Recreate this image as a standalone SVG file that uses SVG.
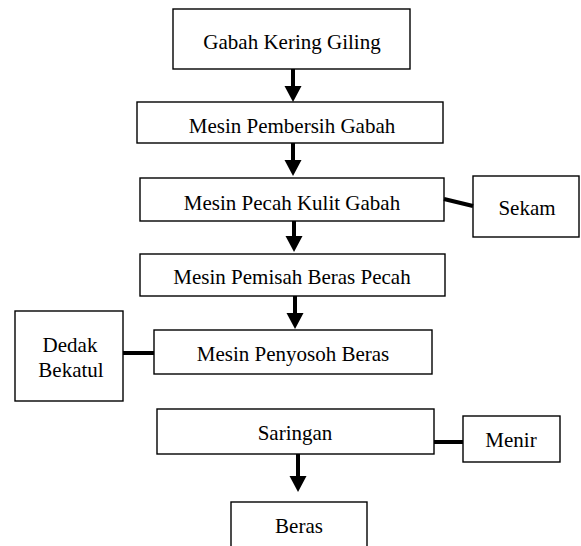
<svg xmlns="http://www.w3.org/2000/svg" width="581" height="546" viewBox="0 0 581 546">
<style>
.box{fill:#fff;stroke:#000;stroke-width:1.4}
text{font-family:'Liberation Serif','Times New Roman',serif;font-size:21px;fill:#000;text-anchor:middle}
.ln{stroke:#000;stroke-width:4;fill:none}
.hd{fill:#000}
</style>
<rect width="581" height="546" fill="#fff"/>
<g id="n1"><rect class="box" x="173" y="9" width="237" height="60"/><text x="292" y="49">Gabah Kering Giling</text></g>
<g id="n2"><rect class="box" x="137" y="102" width="306" height="41"/><text x="292" y="133">Mesin Pembersih Gabah</text></g>
<g id="n3"><rect class="box" x="140" y="178" width="304" height="43"/><text x="292" y="210">Mesin Pecah Kulit Gabah</text></g>
<g id="n3b"><rect class="box" x="473" y="176" width="106" height="61"/><text x="527" y="215">Sekam</text></g>
<g id="n4"><rect class="box" x="140" y="254" width="305" height="42"/><text x="292" y="284">Mesin Pemisah Beras Pecah</text></g>
<g id="n5"><rect class="box" x="154" y="330" width="278" height="44"/><text x="293" y="361">Mesin Penyosoh Beras</text></g>
<g id="n5b"><rect class="box" x="15" y="311" width="108" height="90"/><text x="70" y="352">Dedak</text><text x="71" y="377">Bekatul</text></g>
<g id="n6"><rect class="box" x="157" y="409" width="277" height="45"/><text x="295" y="440">Saringan</text></g>
<g id="n6b"><rect class="box" x="463" y="416" width="97" height="46"/><text x="511" y="447">Menir</text></g>
<g id="n7"><rect class="box" x="231" y="502" width="136" height="60"/><text x="299" y="533">Beras</text></g>
<g id="connectors">
<line class="ln" x1="293" y1="69" x2="293" y2="87"/><polygon class="hd" points="284.5,86 301.5,86 293,102"/>
<line class="ln" x1="293" y1="143" x2="293" y2="161"/><polygon class="hd" points="284.5,160 301.5,160 293,176"/>
<line class="ln" x1="294" y1="221" x2="294" y2="237"/><polygon class="hd" points="285.5,236 302.5,236 294,252"/>
<line class="ln" x1="295" y1="296" x2="295" y2="314"/><polygon class="hd" points="286.5,313 303.5,313 295,329"/>
<line class="ln" x1="298" y1="454" x2="298" y2="477"/><polygon class="hd" points="289.5,476 306.5,476 298,492"/>
<line class="ln" x1="444" y1="199" x2="473" y2="206"/>
<line class="ln" x1="123" y1="353" x2="154" y2="353"/>
<line class="ln" x1="434" y1="442" x2="463" y2="442"/>
</g>
</svg>
